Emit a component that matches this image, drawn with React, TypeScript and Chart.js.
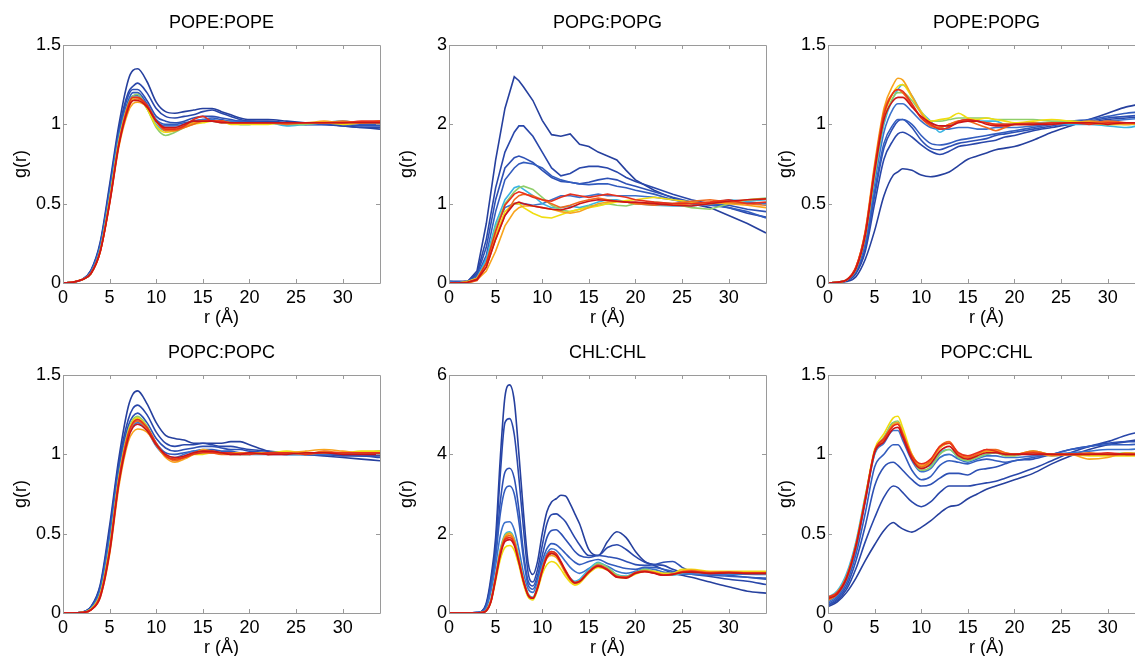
import React, { useEffect, useRef } from 'react';
import { Chart, registerables } from 'chart.js';

Chart.register(...registerables);

// Radial distance grids (Å)
const R = [0, 1, 2, 3, 4, 5, 6, 7, 7.5, 8, 9, 10, 11, 12, 13, 14, 15, 16, 17, 18, 19, 20, 22, 24, 26, 28, 30, 32, 34];
const R_CHL = [0, 1, 2, 3, 3.5, 4, 4.5, 5, 5.5, 6, 6.5, 7, 7.5, 8, 8.5, 9, 9.5, 10, 10.5, 11, 11.5, 12, 12.5, 13, 13.5, 14, 15, 16, 17, 18, 19, 20, 21, 22, 23, 24, 25, 26, 28, 30, 32, 34];

// Series colours (early -> late), jet-like
const COLORS = ['#26409e', '#2947aa', '#2d50b4', '#325cbe', '#3c72cc', '#39b4e3', '#8fce6a', '#f0dd10', '#f8a41c', '#f06a1c', '#e8301c', '#cc1418'];

const X_TICK_STEP = 5;
const X_MAX = 34;

// POPE:POPE
const POPE_POPE = [
  [0, 0.005, 0.02, 0.08, 0.26, 0.62, 1.0, 1.28, 1.34, 1.35, 1.27, 1.14, 1.08, 1.07, 1.08, 1.09, 1.1, 1.1, 1.08, 1.06, 1.04, 1.03, 1.03, 1.02, 1.01, 1.0, 0.99, 0.98, 0.97],
  [0, 0.005, 0.02, 0.08, 0.25, 0.6, 0.97, 1.2, 1.24, 1.26, 1.2, 1.1, 1.05, 1.04, 1.05, 1.06, 1.08, 1.09, 1.07, 1.05, 1.03, 1.02, 1.02, 1.01, 1.0, 1.0, 0.99, 0.98, 0.98],
  [0, 0.005, 0.02, 0.07, 0.24, 0.58, 0.95, 1.18, 1.22, 1.22, 1.15, 1.05, 1.02, 1.01, 1.02, 1.04, 1.05, 1.05, 1.04, 1.03, 1.02, 1.02, 1.01, 1.01, 1.0, 1.0, 1.0, 0.99, 0.99],
  [0, 0.005, 0.02, 0.07, 0.23, 0.57, 0.94, 1.15, 1.2, 1.2, 1.13, 1.03, 1.0, 1.0, 1.01, 1.02, 1.03, 1.04, 1.03, 1.02, 1.02, 1.01, 1.01, 1.01, 1.0, 1.0, 1.01, 1.0, 1.0],
  [0, 0.005, 0.02, 0.07, 0.23, 0.56, 0.93, 1.13, 1.18, 1.18, 1.12, 1.02, 0.99, 0.99, 1.0, 1.02, 1.03, 1.03, 1.02, 1.02, 1.01, 1.01, 1.01, 1.0, 1.0, 1.01, 1.0, 1.01, 1.01],
  [0, 0.004, 0.02, 0.06, 0.21, 0.53, 0.9, 1.12, 1.17, 1.17, 1.1, 1.0, 0.96, 0.97, 0.99, 1.01, 1.02, 1.02, 1.01, 1.01, 1.0, 1.0, 1.01, 0.99, 1.0, 1.01, 1.02, 1.01, 1.01],
  [0, 0.004, 0.02, 0.06, 0.21, 0.53, 0.9, 1.13, 1.18, 1.19, 1.1, 0.98, 0.93, 0.95, 0.98, 1.01, 1.02, 1.02, 1.02, 1.01, 1.0, 1.0, 1.01, 1.0, 1.0, 1.01, 1.01, 1.01, 1.01],
  [0, 0.004, 0.02, 0.06, 0.2, 0.52, 0.89, 1.12, 1.16, 1.17, 1.1, 0.99, 0.95, 0.96, 0.98, 1.0, 1.01, 1.02, 1.02, 1.0, 1.0, 1.0, 1.0, 1.01, 1.01, 1.01, 1.0, 1.01, 1.02],
  [0, 0.004, 0.02, 0.06, 0.2, 0.5, 0.86, 1.08, 1.13, 1.14, 1.11, 1.02, 0.97, 0.97, 0.99, 1.01, 1.02, 1.02, 1.01, 1.01, 1.01, 1.01, 1.01, 1.01, 1.01, 1.02, 1.01, 1.01, 1.02],
  [0, 0.004, 0.02, 0.06, 0.2, 0.51, 0.88, 1.1, 1.15, 1.16, 1.12, 1.02, 0.96, 0.96, 0.98, 1.0, 1.02, 1.02, 1.02, 1.01, 1.01, 1.01, 1.01, 1.0, 1.01, 1.01, 1.02, 1.01, 1.01],
  [0, 0.004, 0.02, 0.06, 0.2, 0.51, 0.88, 1.12, 1.17, 1.17, 1.12, 1.02, 0.97, 0.97, 0.99, 1.03, 1.05, 1.02, 1.02, 1.01, 1.01, 1.01, 1.01, 1.01, 1.01, 1.01, 1.01, 1.02, 1.02],
  [0, 0.004, 0.02, 0.06, 0.2, 0.5, 0.87, 1.1, 1.15, 1.15, 1.11, 1.02, 0.98, 0.98, 1.0, 1.02, 1.02, 1.02, 1.01, 1.01, 1.01, 1.01, 1.01, 1.01, 1.01, 1.01, 1.01, 1.01, 1.01],
];

// POPG:POPG
const POPG_POPG = [
  [0.02, 0.02, 0.02, 0.15, 0.75, 1.55, 2.2, 2.6, 2.55, 2.47, 2.3, 2.05, 1.87, 1.85, 1.88, 1.75, 1.72, 1.65, 1.6, 1.55, 1.42, 1.3, 1.17, 1.07, 1.0, 0.95, 0.85, 0.75, 0.63],
  [0.01, 0.01, 0.02, 0.12, 0.55, 1.2, 1.65, 1.9, 1.98, 1.98, 1.85, 1.65, 1.45, 1.35, 1.38, 1.45, 1.47, 1.47, 1.45, 1.4, 1.33, 1.28, 1.2, 1.12, 1.05, 1.0, 0.95, 0.88, 0.83],
  [0.02, 0.01, 0.02, 0.1, 0.45, 1.05, 1.45, 1.58, 1.6, 1.58, 1.52, 1.42, 1.33, 1.28, 1.27, 1.25, 1.27, 1.3, 1.32, 1.3, 1.25, 1.22, 1.15, 1.08, 1.02, 1.0, 0.98, 0.93, 0.9],
  [0.01, 0.01, 0.01, 0.08, 0.35, 0.9, 1.3, 1.45, 1.5, 1.52, 1.5, 1.45, 1.35, 1.3, 1.27, 1.25, 1.24, 1.25, 1.25, 1.22, 1.2, 1.17, 1.12, 1.05, 1.0, 0.98, 0.95, 0.9, 0.82],
  [0, 0.01, 0.01, 0.06, 0.3, 0.7, 0.95, 1.0, 1.0, 1.0, 0.98, 1.0, 1.05, 1.1, 1.1, 1.08, 1.1, 1.12, 1.1, 1.1, 1.1, 1.1, 1.08, 1.05, 1.02, 1.0, 1.0, 1.02, 1.0],
  [0.01, 0, 0.01, 0.06, 0.3, 0.75, 1.05, 1.2, 1.22, 1.18, 1.1, 1.0, 0.95, 0.95, 0.97, 0.95, 0.98, 1.02, 1.05, 1.05, 1.02, 1.0, 0.98, 0.97, 0.97, 1.0, 1.05, 1.03, 1.05],
  [0, 0, 0.01, 0.05, 0.25, 0.7, 1.0, 1.15, 1.2, 1.22, 1.18, 1.08, 0.98, 0.92, 0.9, 0.93, 0.97, 0.98, 1.0, 0.98, 0.97, 1.0, 1.02, 1.0, 0.95, 0.93, 1.0, 1.05, 1.07],
  [0, 0, 0.02, 0.06, 0.25, 0.6, 0.9, 1.0, 1.0, 0.95, 0.88, 0.83, 0.82, 0.86, 0.9, 0.93, 0.95, 0.97, 1.0, 1.02, 1.04, 1.05, 1.08, 1.05, 1.02, 1.0, 1.02, 1.05, 1.06],
  [0, 0, 0, 0.04, 0.15, 0.4, 0.72, 0.9, 0.95, 0.97, 0.97, 0.95, 0.93, 0.9, 0.88, 0.9, 0.95, 1.0, 1.02, 1.03, 1.02, 1.0, 1.0, 0.98, 1.0, 1.02, 1.0, 0.98, 0.95],
  [0, 0, 0, 0.03, 0.2, 0.55, 0.85, 1.05, 1.1, 1.12, 1.1, 1.05, 1.0, 0.95, 0.98, 1.02, 1.05, 1.07, 1.05, 1.03, 1.02, 1.0, 0.98, 1.0, 1.03, 1.05, 1.02, 1.0, 0.98],
  [0, 0, 0.01, 0.05, 0.25, 0.65, 0.98, 1.12, 1.15, 1.13, 1.08, 1.05, 1.03, 1.08, 1.12, 1.1, 1.08, 1.1, 1.12, 1.1, 1.08, 1.05, 1.02, 1.0, 1.0, 1.02, 1.05, 1.0, 1.02],
  [0, 0, 0.01, 0.04, 0.2, 0.55, 0.85, 1.0, 1.02, 1.0, 0.97, 0.95, 0.93, 0.92, 0.95, 1.0, 1.03, 1.05, 1.04, 1.03, 1.02, 1.02, 1.0, 0.98, 0.97, 1.0, 1.03, 1.05, 1.06],
];

// POPE:POPG
const POPE_POPG = [
  [0, 0.005, 0.01, 0.04, 0.15, 0.33, 0.55, 0.68, 0.7, 0.72, 0.71, 0.68, 0.67, 0.68, 0.7, 0.74, 0.78, 0.8, 0.82, 0.84, 0.85, 0.86, 0.9, 0.95, 0.99, 1.03, 1.07, 1.11, 1.13],
  [0, 0.005, 0.015, 0.06, 0.2, 0.5, 0.78, 0.9, 0.94, 0.95, 0.92, 0.87, 0.83, 0.81, 0.83, 0.86, 0.87, 0.88, 0.89, 0.9, 0.92, 0.93, 0.96, 0.98, 1.0, 1.01, 1.03, 1.04, 1.05],
  [0, 0.005, 0.015, 0.07, 0.22, 0.55, 0.85, 0.98, 1.02, 1.03, 0.98, 0.9, 0.85, 0.84, 0.86, 0.88, 0.89, 0.9, 0.91, 0.93, 0.94, 0.95, 0.97, 0.99, 1.01, 1.02, 1.04, 1.05, 1.06],
  [0, 0.005, 0.02, 0.08, 0.25, 0.58, 0.88, 1.0, 1.03, 1.03, 1.0, 0.93, 0.88, 0.87, 0.88, 0.9, 0.91, 0.92, 0.93, 0.94, 0.95, 0.96, 0.98, 1.0, 1.02, 1.03, 1.05, 1.07, 1.08],
  [0, 0.005, 0.02, 0.08, 0.27, 0.63, 0.95, 1.1, 1.13, 1.13, 1.08, 1.02, 0.98, 0.97, 0.97, 0.98, 0.98, 0.97, 0.97, 0.98, 0.98, 0.98, 0.99, 1.0, 1.0, 1.01, 1.02, 1.03, 1.04],
  [0, 0.005, 0.02, 0.09, 0.3, 0.67, 1.0, 1.17, 1.22, 1.25, 1.18, 1.08, 1.02, 0.95, 0.99, 1.02, 1.03, 1.02, 1.02, 1.02, 1.0, 1.0, 1.01, 1.01, 1.0, 1.0, 0.99, 0.98, 1.0],
  [0, 0.005, 0.02, 0.09, 0.3, 0.68, 1.02, 1.17, 1.2, 1.2, 1.15, 1.07, 1.02, 1.02, 1.03, 1.04, 1.04, 1.04, 1.04, 1.03, 1.03, 1.03, 1.03, 1.02, 1.02, 1.01, 1.0, 1.0, 1.0],
  [0, 0.005, 0.02, 0.09, 0.3, 0.7, 1.05, 1.2, 1.24, 1.25, 1.17, 1.08, 1.02, 1.03, 1.04, 1.07, 1.04, 1.03, 1.04, 1.03, 1.02, 1.01, 1.02, 1.03, 1.02, 1.01, 1.0, 1.0, 1.01],
  [0, 0.005, 0.02, 0.1, 0.33, 0.75, 1.1, 1.25, 1.29, 1.28, 1.18, 1.07, 1.0, 0.98, 1.0, 1.02, 1.03, 1.02, 1.01, 1.0, 1.0, 1.0, 1.0, 1.01, 1.01, 1.02, 1.01, 1.0, 1.01],
  [0, 0.005, 0.02, 0.1, 0.32, 0.73, 1.08, 1.2, 1.22, 1.2, 1.12, 1.04, 0.99, 0.98, 1.0, 1.02, 1.02, 1.0, 0.98, 0.96, 0.98, 1.0, 1.01, 1.0, 1.01, 1.01, 1.02, 1.01, 1.0],
  [0, 0.005, 0.02, 0.1, 0.32, 0.72, 1.06, 1.2, 1.22, 1.21, 1.13, 1.04, 1.0, 0.97, 0.98, 1.02, 1.03, 1.02, 1.01, 1.0, 1.0, 1.0, 1.0, 1.01, 1.01, 1.0, 1.01, 1.01, 1.01],
  [0, 0.005, 0.02, 0.09, 0.3, 0.7, 1.03, 1.15, 1.17, 1.17, 1.11, 1.05, 1.01, 0.99, 0.99, 1.01, 1.02, 1.02, 1.0, 0.99, 0.99, 1.0, 1.0, 1.0, 1.01, 1.01, 1.0, 1.01, 1.01],
];

// POPC:POPC
const POPC_POPC = [
  [0, 0, 0.005, 0.04, 0.18, 0.55, 0.98, 1.3, 1.38, 1.4, 1.32, 1.2, 1.12, 1.1, 1.09, 1.07, 1.07, 1.07, 1.07, 1.08, 1.08, 1.06, 1.02, 1.01, 1.0, 0.99, 0.98, 0.97, 0.96],
  [0, 0, 0.005, 0.04, 0.17, 0.52, 0.95, 1.22, 1.29, 1.31, 1.25, 1.14, 1.07, 1.05, 1.06, 1.06, 1.07, 1.06, 1.05, 1.05, 1.04, 1.03, 1.02, 1.01, 1.0, 1.0, 0.99, 0.99, 0.98],
  [0, 0, 0.005, 0.035, 0.16, 0.5, 0.93, 1.18, 1.24, 1.26, 1.2, 1.1, 1.04, 1.02, 1.03, 1.04, 1.05, 1.05, 1.04, 1.03, 1.03, 1.02, 1.01, 1.0, 1.0, 1.0, 1.0, 0.99, 0.99],
  [0, 0, 0.004, 0.03, 0.15, 0.48, 0.9, 1.15, 1.21, 1.23, 1.17, 1.07, 1.01, 1.0, 1.01, 1.02, 1.03, 1.03, 1.02, 1.02, 1.01, 1.01, 1.0, 1.0, 1.0, 1.0, 1.0, 1.0, 1.0],
  [0, 0, 0.004, 0.03, 0.14, 0.46, 0.88, 1.12, 1.18, 1.2, 1.15, 1.05, 0.99, 0.98, 1.0, 1.02, 1.02, 1.02, 1.01, 1.01, 1.01, 1.0, 1.0, 1.01, 1.0, 1.0, 1.01, 1.0, 1.01],
  [0, 0, 0.003, 0.025, 0.12, 0.42, 0.85, 1.12, 1.19, 1.21, 1.16, 1.06, 0.99, 0.97, 0.98, 1.0, 1.01, 1.01, 1.01, 1.0, 1.0, 1.0, 1.01, 1.0, 1.0, 1.01, 1.01, 1.01, 1.02],
  [0, 0, 0.003, 0.025, 0.12, 0.42, 0.86, 1.15, 1.22, 1.24, 1.18, 1.07, 0.99, 0.97, 0.98, 1.0, 1.01, 1.01, 1.01, 1.01, 1.0, 1.0, 1.01, 1.01, 1.0, 1.01, 1.01, 1.01, 1.02],
  [0, 0, 0.003, 0.025, 0.12, 0.41, 0.85, 1.14, 1.21, 1.23, 1.17, 1.06, 0.99, 0.97, 0.98, 1.0, 1.0, 1.01, 1.01, 1.01, 1.01, 1.01, 1.01, 1.02, 1.01, 1.01, 1.01, 1.02, 1.02],
  [0, 0, 0.003, 0.02, 0.1, 0.37, 0.8, 1.08, 1.14, 1.16, 1.14, 1.06, 0.98, 0.95, 0.97, 1.0, 1.03, 1.02, 1.01, 1.0, 1.0, 1.01, 1.0, 1.01, 1.02, 1.03, 1.02, 1.01, 1.01],
  [0, 0, 0.003, 0.02, 0.11, 0.39, 0.83, 1.12, 1.19, 1.21, 1.16, 1.06, 0.99, 0.96, 0.98, 1.01, 1.02, 1.01, 1.0, 1.0, 1.01, 1.01, 1.0, 1.01, 1.0, 1.02, 1.01, 1.01, 1.01],
  [0, 0, 0.003, 0.02, 0.11, 0.4, 0.84, 1.13, 1.2, 1.22, 1.17, 1.07, 0.99, 0.97, 0.98, 1.0, 1.01, 1.01, 1.01, 1.01, 1.0, 1.0, 1.01, 1.01, 1.0, 1.01, 1.01, 1.01, 1.01],
  [0, 0, 0.003, 0.02, 0.1, 0.38, 0.82, 1.1, 1.17, 1.19, 1.15, 1.06, 1.0, 0.98, 0.99, 1.01, 1.02, 1.02, 1.01, 1.0, 1.0, 1.01, 1.0, 1.0, 1.01, 1.01, 1.0, 1.0, 1.0],
];

// CHL:CHL
const CHL_CHL = [
  [0, 0, 0, 0.01, 0.04, 0.25, 0.9, 1.9, 3.9, 5.45, 5.75, 5.35, 4.0, 2.5, 1.25, 0.97, 1.3, 2.0, 2.55, 2.8, 2.88, 2.97, 2.95, 2.75, 2.5, 2.25, 1.6, 1.45, 1.8, 2.05, 1.9, 1.55, 1.3, 1.2, 1.1, 1.0, 0.95, 0.9, 0.78, 0.66, 0.55, 0.5],
  [0, 0, 0, 0.01, 0.04, 0.22, 0.8, 1.7, 3.5, 4.8, 4.9, 4.5, 3.4, 2.1, 1.0, 0.78, 1.1, 1.7, 2.25, 2.48, 2.5, 2.42, 2.3, 2.1, 1.9, 1.72, 1.45, 1.45, 1.65, 1.72, 1.6, 1.42, 1.28, 1.22, 1.2, 1.1, 1.02, 0.98, 0.92, 0.85, 0.8, 0.72],
  [0, 0, 0, 0.01, 0.03, 0.18, 0.7, 1.5, 2.8, 3.55, 3.65, 3.4, 2.6, 1.5, 0.8, 0.68, 0.95, 1.45, 1.9, 2.08, 2.1, 2.0, 1.85, 1.7, 1.55, 1.45, 1.4, 1.45, 1.42, 1.38, 1.3, 1.22, 1.2, 1.22, 1.28, 1.3, 1.15, 1.05, 1.0, 0.95, 0.9, 0.85],
  [0, 0, 0, 0.01, 0.03, 0.16, 0.65, 1.4, 2.5, 3.1, 3.2, 3.0, 2.3, 1.35, 0.7, 0.6, 0.85, 1.3, 1.62, 1.75, 1.72, 1.62, 1.5, 1.38, 1.28, 1.22, 1.3, 1.35, 1.25, 1.18, 1.12, 1.1, 1.15, 1.15, 1.1, 1.05, 1.0, 0.98, 0.95, 0.93, 0.9, 0.88],
  [0, 0, 0, 0.01, 0.03, 0.13, 0.55, 1.2, 1.95, 2.28, 2.3, 2.1, 1.6, 1.0, 0.6, 0.52, 0.78, 1.2, 1.5, 1.62, 1.58, 1.45, 1.3, 1.15, 1.05, 1.0, 1.12, 1.25, 1.18, 1.05, 1.0, 1.05, 1.12, 1.1, 1.03, 1.0, 0.98, 0.98, 0.97, 0.98, 0.98, 0.97],
  [0, 0, 0, 0, 0.01, 0.07, 0.35, 0.95, 1.6, 1.98, 2.05, 1.88, 1.4, 0.85, 0.48, 0.4, 0.7, 1.15, 1.48, 1.55, 1.48, 1.28, 1.05, 0.88, 0.8, 0.85, 1.1, 1.28, 1.15, 0.97, 0.93, 1.03, 1.08, 1.03, 0.97, 0.95, 1.0, 1.02, 1.02, 1.0, 1.0, 1.0],
  [0, 0, 0, 0, 0.01, 0.07, 0.33, 0.92, 1.57, 1.95, 2.02, 1.85, 1.38, 0.83, 0.46, 0.38, 0.66, 1.1, 1.42, 1.5, 1.44, 1.25, 1.02, 0.85, 0.76, 0.8, 1.05, 1.25, 1.15, 0.96, 0.92, 1.02, 1.1, 1.05, 0.98, 0.97, 1.02, 1.05, 1.03, 1.02, 1.01, 1.0],
  [0, 0, 0, 0, 0.01, 0.05, 0.28, 0.8, 1.35, 1.65, 1.7, 1.58, 1.2, 0.72, 0.4, 0.33, 0.58, 0.98, 1.22, 1.3, 1.25, 1.1, 0.92, 0.78, 0.7, 0.75, 1.0, 1.15, 1.08, 0.9, 0.88, 0.98, 1.05, 1.05, 1.0, 1.0, 1.1, 1.1, 1.05, 1.05, 1.05, 1.05],
  [0, 0, 0, 0, 0.01, 0.06, 0.32, 0.9, 1.55, 1.92, 2.0, 1.83, 1.35, 0.82, 0.46, 0.38, 0.64, 1.08, 1.38, 1.45, 1.4, 1.22, 1.0, 0.83, 0.74, 0.78, 1.02, 1.18, 1.1, 0.92, 0.9, 1.0, 1.06, 1.02, 0.96, 0.98, 1.06, 1.08, 1.03, 1.03, 1.02, 1.02],
  [0, 0, 0, 0, 0.01, 0.06, 0.3, 0.88, 1.52, 1.88, 1.95, 1.8, 1.33, 0.8, 0.45, 0.37, 0.64, 1.1, 1.42, 1.52, 1.47, 1.28, 1.05, 0.86, 0.76, 0.8, 1.04, 1.2, 1.1, 0.92, 0.9, 1.01, 1.06, 1.02, 0.96, 0.97, 1.04, 1.06, 1.02, 1.04, 1.01, 1.01],
  [0, 0, 0, 0, 0.01, 0.06, 0.3, 0.9, 1.5, 1.85, 1.9, 1.75, 1.3, 0.8, 0.45, 0.38, 0.65, 1.1, 1.45, 1.55, 1.5, 1.3, 1.08, 0.88, 0.77, 0.8, 1.05, 1.2, 1.1, 0.92, 0.9, 1.02, 1.05, 1.0, 0.95, 0.98, 1.03, 1.05, 1.0, 1.02, 1.0, 1.0],
  [0, 0, 0, 0, 0.01, 0.05, 0.28, 0.85, 1.45, 1.8, 1.85, 1.7, 1.27, 0.78, 0.44, 0.37, 0.63, 1.06, 1.4, 1.5, 1.45, 1.27, 1.05, 0.86, 0.76, 0.79, 1.03, 1.18, 1.08, 0.9, 0.88, 1.0, 1.04, 1.0, 0.95, 0.97, 1.02, 1.03, 1.0, 1.01, 1.0, 1.0],
];

// POPC:CHL
const POPC_CHL = [
  [0.04, 0.07, 0.13, 0.22, 0.33, 0.43, 0.52, 0.57, 0.55, 0.53, 0.51, 0.54, 0.58, 0.63, 0.67, 0.68, 0.72, 0.75, 0.78, 0.8, 0.82, 0.84, 0.88, 0.94, 0.99, 1.03, 1.06, 1.08, 1.1],
  [0.05, 0.08, 0.15, 0.28, 0.45, 0.6, 0.73, 0.8, 0.79, 0.76, 0.7, 0.67, 0.7, 0.76, 0.8, 0.8, 0.8, 0.81, 0.82, 0.83, 0.85, 0.87, 0.91, 0.96, 1.01, 1.05, 1.08, 1.12, 1.15],
  [0.05, 0.09, 0.17, 0.33, 0.55, 0.8, 0.92, 0.95, 0.93, 0.9, 0.84, 0.8, 0.81, 0.85, 0.88, 0.88, 0.87, 0.9, 0.91, 0.92, 0.94, 0.96, 0.97, 1.0, 1.03, 1.05, 1.07, 1.08, 1.08],
  [0.06, 0.1, 0.19, 0.37, 0.63, 0.92, 1.0, 1.06, 1.06, 1.02, 0.9, 0.84, 0.86, 0.93, 0.96, 0.95, 0.94, 0.96, 0.97, 0.96, 0.95, 0.96, 0.98, 1.0, 1.03, 1.05, 1.06, 1.06, 1.07],
  [0.07, 0.11, 0.21, 0.4, 0.7, 1.0, 1.07, 1.15, 1.15, 1.09, 0.96, 0.89, 0.91, 0.98, 1.0, 0.97, 0.95, 0.97, 0.99, 0.99, 0.98, 0.98, 0.99, 1.0, 1.01, 1.02, 1.03, 1.03, 1.04],
  [0.1, 0.14, 0.25, 0.45, 0.74, 1.0, 1.1, 1.2, 1.2, 1.13, 0.98, 0.92, 0.93, 1.01, 1.03, 0.98, 0.96, 0.98, 1.0, 1.01, 1.0, 1.0, 1.01, 0.99, 1.0, 1.0, 1.0, 1.0, 1.0],
  [0.08, 0.12, 0.22, 0.43, 0.73, 1.02, 1.11, 1.2, 1.21, 1.14, 0.98, 0.9, 0.92, 1.0, 1.03, 0.98, 0.96, 0.98, 1.0, 1.01, 0.99, 0.99, 1.02, 1.0, 1.0, 1.0, 1.0, 1.01, 1.0],
  [0.09, 0.13, 0.23, 0.43, 0.73, 1.03, 1.13, 1.23, 1.24, 1.17, 1.0, 0.92, 0.95, 1.04, 1.07, 1.0, 0.98, 0.99, 1.02, 1.02, 1.0, 1.0, 1.02, 1.0, 1.0, 0.99, 0.99, 0.99, 0.99],
  [0.1, 0.13, 0.23, 0.43, 0.72, 1.02, 1.1, 1.19, 1.2, 1.14, 1.0, 0.93, 0.96, 1.04, 1.07, 1.0, 0.98, 1.0, 1.02, 1.02, 1.01, 1.0, 1.01, 0.99, 1.0, 0.97, 0.98, 1.01, 1.0],
  [0.08, 0.12, 0.22, 0.42, 0.72, 1.02, 1.09, 1.18, 1.19, 1.12, 0.98, 0.92, 0.96, 1.05, 1.08, 1.0, 0.98, 1.0, 1.03, 1.03, 1.01, 1.0, 1.02, 1.0, 1.0, 1.01, 1.0, 1.0, 1.0],
  [0.1, 0.13, 0.23, 0.43, 0.72, 1.02, 1.1, 1.18, 1.19, 1.13, 0.99, 0.94, 0.97, 1.05, 1.07, 1.01, 0.99, 1.01, 1.03, 1.02, 1.0, 1.0, 1.01, 1.0, 1.0, 1.0, 1.01, 1.0, 1.0],
  [0.09, 0.12, 0.22, 0.42, 0.71, 1.01, 1.08, 1.16, 1.17, 1.11, 0.97, 0.91, 0.94, 1.02, 1.05, 0.99, 0.97, 0.99, 1.01, 1.01, 1.0, 1.0, 1.0, 1.0, 1.0, 1.0, 1.0, 1.0, 1.0],
];

type Panel = {
  title: string;
  xs: number[];
  series: number[][];
  yMax: number;
  yStep: number;
  plotLeft: number;
  plotTop: number;
  smooth: boolean;
};

const PANELS: Panel[] = [
  { title: 'POPE:POPE', xs: R, series: POPE_POPE, yMax: 1.5, yStep: 0.5, plotLeft: 63, plotTop: 45, smooth: true },
  { title: 'POPG:POPG', xs: R, series: POPG_POPG, yMax: 3, yStep: 1, plotLeft: 449, plotTop: 45, smooth: false },
  { title: 'POPE:POPG', xs: R, series: POPE_POPG, yMax: 1.5, yStep: 0.5, plotLeft: 828, plotTop: 45, smooth: true },
  { title: 'POPC:POPC', xs: R, series: POPC_POPC, yMax: 1.5, yStep: 0.5, plotLeft: 63, plotTop: 375, smooth: true },
  { title: 'CHL:CHL', xs: R_CHL, series: CHL_CHL, yMax: 6, yStep: 2, plotLeft: 449, plotTop: 375, smooth: true },
  { title: 'POPC:CHL', xs: R, series: POPC_CHL, yMax: 1.5, yStep: 0.5, plotLeft: 828, plotTop: 375, smooth: true },
];

const FONT = "'Liberation Sans', Arial, Helvetica, sans-serif";
const Y_AXIS_W = 63;
const TITLE_H = 45;
const X_AXIS_H = 47;
const PLOT_W = 317;
const PLOT_H = 238;
const PAD_R = 5;

const framePlugin = {
  id: 'matlabFrame',
  afterDraw(chart: any) {
    const { ctx, chartArea } = chart;
    const { left, right, top, bottom } = chartArea;
    const xs = chart.scales.x;
    const ys = chart.scales.y;
    const tl = 4;
    ctx.save();
    ctx.strokeStyle = '#9a9a9a';
    ctx.lineWidth = 1;
    ctx.beginPath();
    ctx.rect(Math.round(left) + 0.5, Math.round(top) + 0.5, Math.round(right - left), Math.round(bottom - top));
    xs.ticks.forEach((t: any) => {
      const px = Math.round(xs.getPixelForValue(t.value)) + 0.5;
      ctx.moveTo(px, bottom);
      ctx.lineTo(px, bottom - tl);
      ctx.moveTo(px, top);
      ctx.lineTo(px, top + tl);
    });
    ys.ticks.forEach((t: any) => {
      const py = Math.round(ys.getPixelForValue(t.value)) + 0.5;
      ctx.moveTo(left, py);
      ctx.lineTo(left + tl, py);
      ctx.moveTo(right, py);
      ctx.lineTo(right - tl, py);
    });
    ctx.stroke();
    ctx.restore();
  },
};

function PanelChart({ panel }: { panel: Panel }) {
  const ref = useRef<HTMLCanvasElement | null>(null);
  const width = Y_AXIS_W + PLOT_W + PAD_R;
  const height = TITLE_H + PLOT_H + X_AXIS_H;

  useEffect(() => {
    if (!ref.current) return;
    const n = panel.series.length;
    const datasets = panel.series.map((ys, i) => ({
      label: `${panel.title} ${i + 1}`,
      data: panel.xs.map((x, j) => ({ x, y: ys[j] })),
      borderColor: COLORS[i],
      backgroundColor: COLORS[i],
      borderWidth: 1.6,
      pointRadius: 0,
      fill: false,
      tension: 0,
      cubicInterpolationMode: panel.smooth ? 'monotone' : 'default',
      order: n - 1 - i,
    }));
    const chart = new Chart(ref.current, {
      type: 'line',
      data: { datasets } as any,
      plugins: [framePlugin],
      options: {
        responsive: false,
        animation: false,
        devicePixelRatio: 1,
        layout: { padding: { left: 0, right: PAD_R, top: 0, bottom: 0 } },
        plugins: {
          legend: { display: false },
          tooltip: { enabled: false },
          title: {
            display: true,
            text: panel.title,
            fullSize: false,
            color: '#000',
            font: { family: FONT, size: 18, weight: 'normal', lineHeight: 1.2 },
            padding: { top: 12, bottom: 11.4 },
          },
        },
        scales: {
          x: {
            type: 'linear',
            min: 0,
            max: X_MAX,
            afterFit: (s: any) => { s.height = X_AXIS_H; },
            ticks: {
              stepSize: X_TICK_STEP,
              includeBounds: false,
              color: '#000',
              font: { family: FONT, size: 18 },
              padding: 4,
              maxRotation: 0,
              autoSkip: false,
              callback: (v: any) => String(v),
            },
            grid: { display: false, drawTicks: false },
            border: { display: false },
            title: {
              display: true,
              text: 'r (Å)',
              color: '#000',
              font: { family: FONT, size: 18 },
              padding: { top: 0, bottom: 1 },
            },
          },
          y: {
            type: 'linear',
            min: 0,
            max: panel.yMax,
            afterFit: (s: any) => { s.width = Y_AXIS_W; },
            ticks: {
              stepSize: panel.yStep,
              color: '#000',
              font: { family: FONT, size: 18 },
              padding: 2,
              callback: (v: any) => String(Math.round(v * 100) / 100),
            },
            grid: { display: false, drawTicks: false },
            border: { display: false },
            title: {
              display: true,
              text: 'g(r)',
              color: '#000',
              font: { family: FONT, size: 18 },
              padding: { top: 10, bottom: 0 },
            },
          },
        },
      } as any,
    });
    return () => chart.destroy();
  }, [panel]);

  return (
    <canvas
      ref={ref}
      width={width}
      height={height}
      style={{
        position: 'absolute',
        left: panel.plotLeft - Y_AXIS_W,
        top: panel.plotTop - TITLE_H,
        width,
        height,
      }}
    />
  );
}

export default function App() {
  return (
    <div
      style={{
        position: 'fixed',
        left: 0,
        top: 0,
        width: 1135,
        height: 656,
        overflow: 'hidden',
        background: '#fff',
      }}
    >
      {PANELS.map((p) => (
        <PanelChart key={p.title} panel={p} />
      ))}
    </div>
  );
}
